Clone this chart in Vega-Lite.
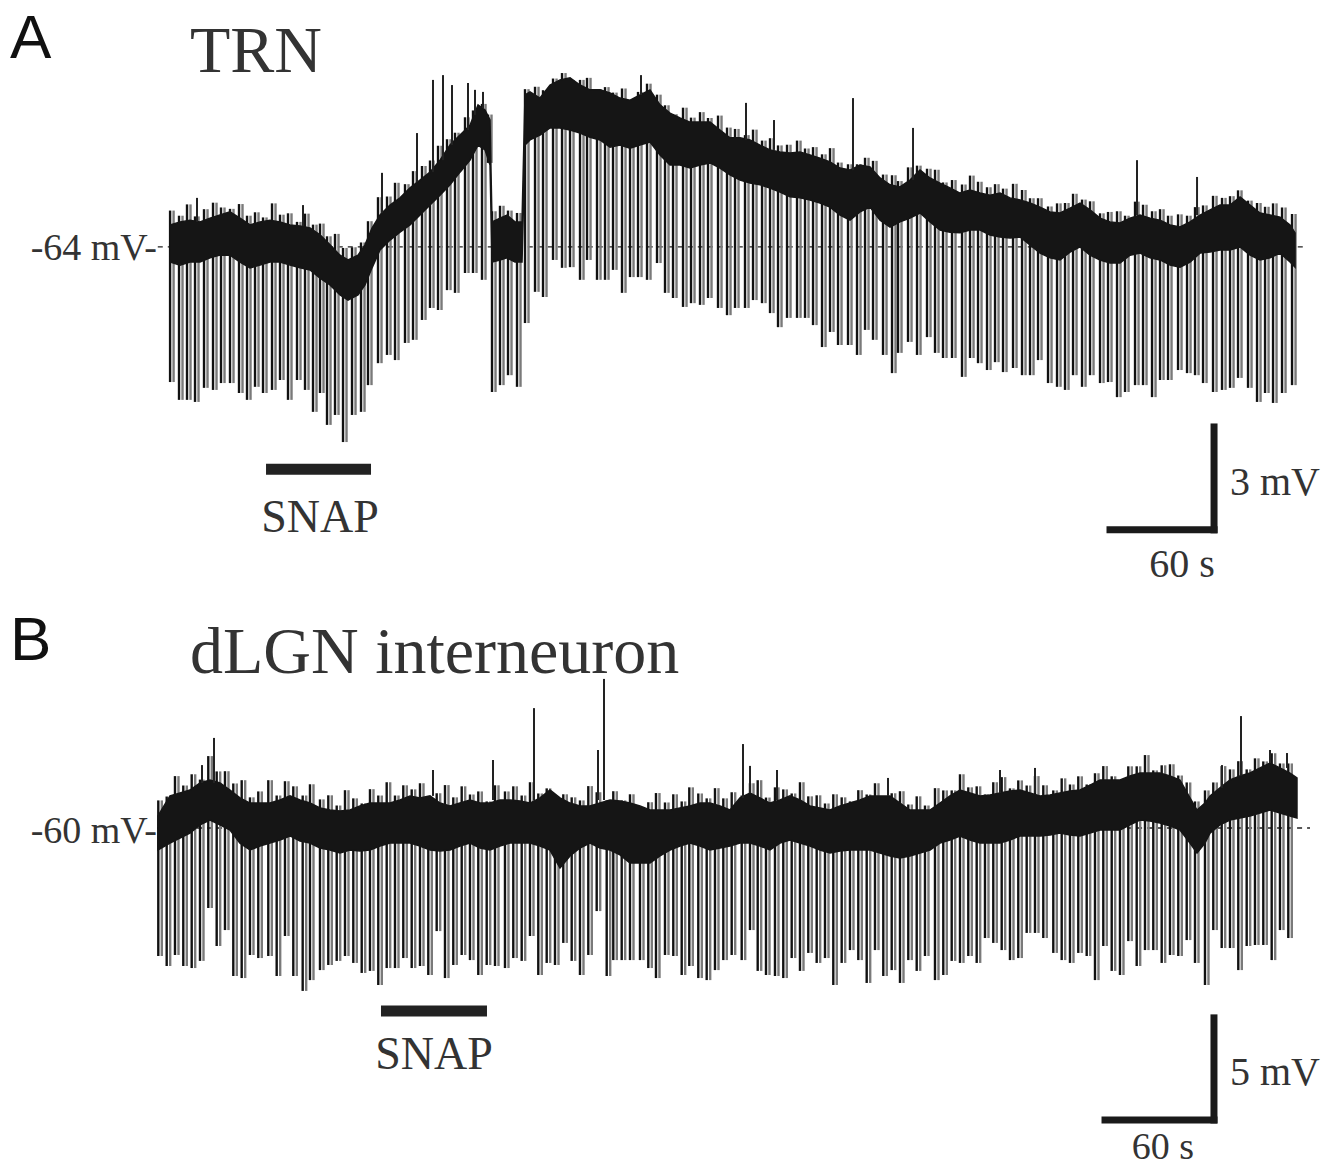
{
"$schema": "https://vega.github.io/schema/vega-lite/v6.json",
"padding": 0,
"spacing": 0,
"background": "white",
"config": {"view": {"stroke": null}},
"datasets": {
"bandA": [
{"t":0.1,"top":-63.36,"bot":-64.44},{"t":5.83,"top":-63.27,"bot":-64.53},{"t":11.59,"top":-63.22,"bot":-64.44},{"t":17.36,"top":-63.27,"bot":-64.44},{"t":23.13,"top":-63.16,"bot":-64.32},{"t":28.89,"top":-63.07,"bot":-64.24},{"t":34.66,"top":-62.98,"bot":-64.24},{"t":40.43,"top":-63.16,"bot":-64.44},{"t":46.2,"top":-63.36,"bot":-64.61},{"t":51.97,"top":-63.27,"bot":-64.53},{"t":57.73,"top":-63.22,"bot":-64.44},{"t":63.5,"top":-63.27,"bot":-64.44},{"t":69.27,"top":-63.36,"bot":-64.53},{"t":75.03,"top":-63.39,"bot":-64.61},{"t":80.8,"top":-63.45,"bot":-64.67},{"t":86.57,"top":-63.65,"bot":-64.91},{"t":92.34,"top":-63.94,"bot":-65.11},{"t":98.1,"top":-64.24,"bot":-65.4},{"t":102.72,"top":-64.38,"bot":-65.55},{"t":108.49,"top":-64.24,"bot":-65.4},{"t":112.52,"top":-63.94,"bot":-65.11},{"t":116.56,"top":-63.45,"bot":-64.61},{"t":121.17,"top":-63.07,"bot":-64.09},{"t":126.94,"top":-62.78,"bot":-63.8},{"t":132.71,"top":-62.57,"bot":-63.57},{"t":138.48,"top":-62.28,"bot":-63.36},{"t":144.25,"top":-62.05,"bot":-63.07},{"t":150.01,"top":-61.82,"bot":-62.78},{"t":155.78,"top":-61.47,"bot":-62.49},{"t":161.55,"top":-61.03,"bot":-62.19},{"t":167.31,"top":-60.74,"bot":-61.82},{"t":173.08,"top":-60.45,"bot":-61.47},{"t":177.7,"top":-59.86,"bot":-61.03},{"t":181.73,"top":-60.01,"bot":-61.17},{"t":184.62,"top":-60.3,"bot":-61.61},
{"t":185.77,"top":-63.27,"bot":-64.44},{"t":190.38,"top":-63.16,"bot":-64.38},{"t":194.42,"top":-63.07,"bot":-64.32},{"t":199.03,"top":-63.27,"bot":-64.44},{"t":203.07,"top":-63.27,"bot":-64.44},
{"t":204.8,"top":-59.57,"bot":-61.03},{"t":207.69,"top":-59.48,"bot":-60.88},{"t":213.45,"top":-59.66,"bot":-60.74},{"t":219.22,"top":-59.28,"bot":-60.53},{"t":224.99,"top":-59.13,"bot":-60.53},{"t":230.76,"top":-59.07,"bot":-60.59},{"t":236.53,"top":-59.28,"bot":-60.68},{"t":242.29,"top":-59.42,"bot":-60.8},{"t":248.06,"top":-59.42,"bot":-60.88},{"t":253.83,"top":-59.51,"bot":-61.09},{"t":259.6,"top":-59.66,"bot":-61.03},{"t":265.37,"top":-59.72,"bot":-61.12},{"t":271.13,"top":-59.57,"bot":-61.03},{"t":276.9,"top":-59.42,"bot":-60.94},{"t":282.67,"top":-59.86,"bot":-61.32},{"t":288.43,"top":-60.1,"bot":-61.61},{"t":294.2,"top":-60.24,"bot":-61.61},{"t":299.97,"top":-60.36,"bot":-61.7},{"t":305.74,"top":-60.36,"bot":-61.61},{"t":311.51,"top":-60.36,"bot":-61.55},{"t":317.27,"top":-60.59,"bot":-61.7},{"t":323.04,"top":-60.82,"bot":-61.9},{"t":328.81,"top":-60.82,"bot":-62.05},{"t":334.58,"top":-60.88,"bot":-62.14},{"t":340.34,"top":-61.03,"bot":-62.19},{"t":346.11,"top":-61.17,"bot":-62.28},{"t":351.88,"top":-61.23,"bot":-62.4},{"t":357.65,"top":-61.26,"bot":-62.54},{"t":363.42,"top":-61.23,"bot":-62.57},{"t":369.18,"top":-61.32,"bot":-62.63},{"t":374.95,"top":-61.41,"bot":-62.72},{"t":380.72,"top":-61.52,"bot":-62.84},{"t":386.49,"top":-61.7,"bot":-63.07},{"t":392.25,"top":-61.76,"bot":-63.22},{"t":398.02,"top":-61.61,"bot":-62.98},{"t":403.79,"top":-61.67,"bot":-62.84},{"t":409.56,"top":-61.99,"bot":-63.22},{"t":415.33,"top":-62.19,"bot":-63.42},{"t":421.09,"top":-62.25,"bot":-63.27},{"t":426.86,"top":-62.05,"bot":-63.16},{"t":432.63,"top":-61.76,"bot":-63.01},{"t":438.4,"top":-61.99,"bot":-63.27},{"t":444.16,"top":-62.14,"bot":-63.51},{"t":449.93,"top":-62.28,"bot":-63.57},{"t":455.7,"top":-62.43,"bot":-63.59},{"t":461.47,"top":-62.34,"bot":-63.51},{"t":467.24,"top":-62.43,"bot":-63.51},{"t":473.0,"top":-62.49,"bot":-63.65},{"t":478.77,"top":-62.43,"bot":-63.71},{"t":484.54,"top":-62.57,"bot":-63.74},{"t":490.31,"top":-62.63,"bot":-63.71},{"t":496.07,"top":-62.72,"bot":-63.94},{"t":501.84,"top":-62.84,"bot":-64.18},{"t":507.61,"top":-62.98,"bot":-64.32},{"t":513.38,"top":-63.01,"bot":-64.38},{"t":519.15,"top":-62.87,"bot":-64.15},{"t":524.91,"top":-62.72,"bot":-64.0},{"t":530.68,"top":-62.92,"bot":-64.24},{"t":536.45,"top":-63.16,"bot":-64.38},{"t":542.22,"top":-63.27,"bot":-64.47},{"t":547.98,"top":-63.3,"bot":-64.47},{"t":553.75,"top":-63.16,"bot":-64.24},{"t":559.52,"top":-63.07,"bot":-64.18},{"t":565.29,"top":-63.16,"bot":-64.32},{"t":571.06,"top":-63.22,"bot":-64.38},{"t":576.82,"top":-63.36,"bot":-64.53},{"t":582.59,"top":-63.42,"bot":-64.59},{"t":588.36,"top":-63.27,"bot":-64.44},{"t":594.13,"top":-63.07,"bot":-64.18},{"t":599.89,"top":-62.92,"bot":-64.15},{"t":605.66,"top":-62.78,"bot":-64.09},{"t":611.43,"top":-62.78,"bot":-64.09},{"t":617.2,"top":-62.54,"bot":-64.0},{"t":622.97,"top":-62.78,"bot":-64.24},{"t":628.73,"top":-63.01,"bot":-64.38},{"t":634.5,"top":-63.07,"bot":-64.32},{"t":640.27,"top":-63.13,"bot":-64.18},{"t":646.04,"top":-63.36,"bot":-64.44},{"t":648.92,"top":-63.59,"bot":-64.59}
],
"pulseA": [
{"t":0.1,"hi":-62.94,"lo":-67.94},{"t":5.25,"hi":-63.09,"lo":-68.46},{"t":9.86,"hi":-62.76,"lo":-68.46},{"t":14.48,"hi":-63.11,"lo":-68.52},{"t":19.67,"hi":-62.9,"lo":-68.11},{"t":24.86,"hi":-62.71,"lo":-68.17},{"t":29.47,"hi":-62.85,"lo":-67.97},{"t":34.66,"hi":-62.89,"lo":-67.97},{"t":39.85,"hi":-62.75,"lo":-68.26},{"t":44.47,"hi":-63.09,"lo":-68.46},{"t":49.08,"hi":-62.99,"lo":-68.08},{"t":53.7,"hi":-63.14,"lo":-68.26},{"t":58.89,"hi":-62.73,"lo":-68.17},{"t":63.5,"hi":-63.06,"lo":-67.88},{"t":68.11,"hi":-63.02,"lo":-68.46},{"t":73.3,"hi":-63.27,"lo":-67.88},{"t":77.92,"hi":-63.03,"lo":-68.17},{"t":82.53,"hi":-63.35,"lo":-68.81},{"t":86.57,"hi":-63.32,"lo":-68.26},{"t":90.61,"hi":-63.69,"lo":-69.19},{"t":95.22,"hi":-63.62,"lo":-68.9},{"t":99.84,"hi":-64.03,"lo":-69.69},{"t":105.03,"hi":-64.01,"lo":-68.9},{"t":110.22,"hi":-63.87,"lo":-68.81},{"t":114.25,"hi":-63.25,"lo":-68.03},{"t":120.02,"hi":-62.55,"lo":-67.39},{"t":125.21,"hi":-62.53,"lo":-67.15},{"t":129.83,"hi":-62.13,"lo":-67.3},{"t":135.59,"hi":-62.17,"lo":-66.8},{"t":140.21,"hi":-61.79,"lo":-66.71},{"t":145.4,"hi":-61.64,"lo":-66.13},{"t":150.01,"hi":-61.48,"lo":-65.78},{"t":154.63,"hi":-61.05,"lo":-65.84},{"t":159.82,"hi":-60.86,"lo":-65.26},{"t":164.43,"hi":-60.67,"lo":-65.34},{"t":170.2,"hi":-60.22,"lo":-64.76},{"t":174.81,"hi":-60.02,"lo":-64.76},{"t":180.0,"hi":-59.83,"lo":-64.96},{"t":183.46,"hi":-60.14,"lo":-61.55},
{"t":185.77,"hi":-62.96,"lo":-68.23},{"t":190.38,"hi":-62.8,"lo":-68.03},{"t":195.0,"hi":-62.94,"lo":-67.74},{"t":200.19,"hi":-63.01,"lo":-68.08},
{"t":204.8,"hi":-59.4,"lo":-66.22},{"t":210.58,"hi":-59.33,"lo":-65.31},{"t":215.19,"hi":-59.43,"lo":-65.46},{"t":220.96,"hi":-59.09,"lo":-64.38},{"t":226.15,"hi":-58.93,"lo":-64.61},{"t":230.76,"hi":-59.13,"lo":-64.59},{"t":236.53,"hi":-59.13,"lo":-64.96},{"t":240.57,"hi":-59.07,"lo":-64.38},{"t":246.33,"hi":-59.4,"lo":-64.96},{"t":250.95,"hi":-59.34,"lo":-64.96},{"t":255.56,"hi":-59.5,"lo":-64.67},{"t":260.75,"hi":-59.38,"lo":-65.34},{"t":265.37,"hi":-59.72,"lo":-64.88},{"t":269.98,"hi":-59.48,"lo":-64.88},{"t":275.17,"hi":-59.24,"lo":-64.96},{"t":280.94,"hi":-59.56,"lo":-64.47},{"t":285.55,"hi":-59.87,"lo":-65.34},{"t":290.17,"hi":-60.13,"lo":-65.49},{"t":295.94,"hi":-59.94,"lo":-65.75},{"t":300.55,"hi":-60.23,"lo":-65.64},{"t":305.74,"hi":-60.07,"lo":-65.69},{"t":310.35,"hi":-60.24,"lo":-65.49},{"t":316.12,"hi":-60.17,"lo":-65.78},{"t":321.31,"hi":-60.52,"lo":-65.99},{"t":325.93,"hi":-60.56,"lo":-65.78},{"t":331.69,"hi":-60.74,"lo":-65.78},{"t":336.31,"hi":-60.58,"lo":-65.55},{"t":341.5,"hi":-60.9,"lo":-65.64},{"t":346.12,"hi":-60.83,"lo":-65.93},{"t":350.73,"hi":-61.04,"lo":-66.34},{"t":355.92,"hi":-61.02,"lo":-66.07},{"t":361.69,"hi":-60.9,"lo":-66.07},{"t":366.3,"hi":-61.13,"lo":-66.07},{"t":370.92,"hi":-61.09,"lo":-66.28},{"t":376.11,"hi":-61.3,"lo":-66.92},{"t":380.72,"hi":-61.12,"lo":-66.48},{"t":385.34,"hi":-61.54,"lo":-66.86},{"t":391.1,"hi":-61.59,"lo":-66.86},{"t":396.29,"hi":-61.59,"lo":-67.15},{"t":400.91,"hi":-61.4,"lo":-66.42},{"t":405.52,"hi":-61.49,"lo":-66.71},{"t":411.29,"hi":-61.89,"lo":-67.15},{"t":416.48,"hi":-61.91,"lo":-67.68},{"t":419.94,"hi":-62.08,"lo":-67.09},{"t":425.71,"hi":-61.68,"lo":-66.77},{"t":430.9,"hi":-61.63,"lo":-67.15},{"t":436.66,"hi":-61.72,"lo":-66.63},{"t":441.28,"hi":-61.75,"lo":-67.09},{"t":445.89,"hi":-62.12,"lo":-67.24},{"t":451.08,"hi":-62.05,"lo":-67.24},{"t":456.85,"hi":-62.18,"lo":-67.79},{"t":461.47,"hi":-61.92,"lo":-67.24},{"t":466.08,"hi":-62.1,"lo":-67.39},{"t":471.27,"hi":-62.26,"lo":-67.59},{"t":475.89,"hi":-62.17,"lo":-67.36},{"t":480.5,"hi":-62.3,"lo":-67.65},{"t":486.27,"hi":-62.16,"lo":-67.53},{"t":491.46,"hi":-62.34,"lo":-67.74},{"t":496.07,"hi":-62.58,"lo":-67.74},{"t":500.69,"hi":-62.58,"lo":-67.3},{"t":506.46,"hi":-62.82,"lo":-67.97},{"t":511.65,"hi":-62.73,"lo":-68.08},{"t":516.26,"hi":-62.72,"lo":-68.17},{"t":520.88,"hi":-62.45,"lo":-67.74},{"t":526.07,"hi":-62.62,"lo":-68.08},{"t":530.68,"hi":-62.67,"lo":-67.74},{"t":536.45,"hi":-63.02,"lo":-67.97},{"t":541.06,"hi":-62.98,"lo":-67.94},{"t":546.25,"hi":-62.96,"lo":-68.38},{"t":550.87,"hi":-63.09,"lo":-68.23},{"t":556.64,"hi":-62.68,"lo":-68.03},{"t":561.25,"hi":-62.77,"lo":-68.03},{"t":566.44,"hi":-62.96,"lo":-68.38},{"t":571.06,"hi":-62.9,"lo":-67.88},{"t":575.67,"hi":-63.09,"lo":-67.88},{"t":581.44,"hi":-63.05,"lo":-67.59},{"t":586.63,"hi":-63.09,"lo":-67.68},{"t":591.24,"hi":-62.84,"lo":-67.74},{"t":595.86,"hi":-62.79,"lo":-67.97},{"t":601.62,"hi":-62.51,"lo":-68.23},{"t":606.81,"hi":-62.57,"lo":-68.17},{"t":611.43,"hi":-62.52,"lo":-68.11},{"t":616.04,"hi":-62.35,"lo":-67.82},{"t":621.81,"hi":-62.65,"lo":-68.11},{"t":627.0,"hi":-62.72,"lo":-68.52},{"t":631.62,"hi":-62.83,"lo":-68.26},{"t":636.23,"hi":-62.73,"lo":-68.55},{"t":641.42,"hi":-62.85,"lo":-68.26},{"t":647.19,"hi":-63.04,"lo":-68.03}
],
"spikeA": [
{"t":151.74,"base":-61.82,"peak":-59.13},{"t":157.51,"base":-61.47,"peak":-58.99},{"t":162.7,"base":-61.03,"peak":-59.28},{"t":171.93,"base":-60.59,"peak":-59.22},{"t":175.97,"base":-60.15,"peak":-59.42},{"t":180.58,"base":-59.95,"peak":-59.48},{"t":271.71,"base":-59.57,"peak":-58.99},{"t":332.27,"base":-60.88,"peak":-59.8},{"t":348.42,"base":-61.17,"peak":-60.3},{"t":393.98,"base":-61.76,"peak":-59.66},{"t":428.59,"base":-62.05,"peak":-60.53},{"t":557.78,"base":-63.07,"peak":-61.47},{"t":592.39,"base":-63.07,"peak":-61.96},{"t":15.63,"base":-63.27,"peak":-62.57},{"t":76.77,"base":-63.39,"peak":-62.78},{"t":122.33,"base":-63.01,"peak":-61.84},{"t":142.51,"base":-62.11,"peak":-60.68}
],
"bandB": [
{"t":0,"top":-59.41,"bot":-61.08},{"t":6.61,"top":-58.43,"bot":-60.74},{"t":12.11,"top":-58.29,"bot":-60.49},{"t":17.62,"top":-58.14,"bot":-60.25},{"t":23.13,"top":-57.8,"bot":-59.85},{"t":28.63,"top":-57.65,"bot":-59.61},{"t":34.14,"top":-57.8,"bot":-59.85},{"t":39.65,"top":-58.14,"bot":-60.1},{"t":45.15,"top":-58.53,"bot":-60.74},{"t":50.66,"top":-58.78,"bot":-61.08},{"t":56.17,"top":-58.78,"bot":-60.88},{"t":61.68,"top":-58.78,"bot":-60.74},{"t":67.18,"top":-58.63,"bot":-60.59},{"t":72.69,"top":-58.43,"bot":-60.39},{"t":78.2,"top":-58.63,"bot":-60.64},{"t":83.7,"top":-58.78,"bot":-60.74},{"t":89.21,"top":-59.02,"bot":-60.98},{"t":94.72,"top":-59.12,"bot":-61.08},{"t":100.22,"top":-59.17,"bot":-61.23},{"t":105.73,"top":-59.12,"bot":-61.08},{"t":111.24,"top":-58.92,"bot":-61.13},{"t":116.74,"top":-58.78,"bot":-61.08},{"t":122.25,"top":-58.78,"bot":-60.88},{"t":127.76,"top":-58.78,"bot":-60.74},{"t":133.26,"top":-58.63,"bot":-60.74},{"t":138.77,"top":-58.43,"bot":-60.74},{"t":144.28,"top":-58.53,"bot":-60.88},{"t":149.78,"top":-58.43,"bot":-61.08},{"t":155.29,"top":-58.78,"bot":-61.13},{"t":160.8,"top":-58.92,"bot":-61.08},{"t":166.3,"top":-58.78,"bot":-60.88},{"t":171.81,"top":-58.63,"bot":-60.74},{"t":177.32,"top":-58.78,"bot":-60.98},{"t":182.82,"top":-58.78,"bot":-61.08},{"t":188.33,"top":-58.63,"bot":-60.88},{"t":193.84,"top":-58.63,"bot":-60.74},{"t":199.34,"top":-58.68,"bot":-60.74},{"t":204.85,"top":-58.78,"bot":-60.74},{"t":210.36,"top":-58.53,"bot":-60.88},{"t":215.86,"top":-58.14,"bot":-61.08},{"t":221.37,"top":-58.53,"bot":-61.96},{"t":226.88,"top":-58.78,"bot":-61.37},{"t":232.38,"top":-58.92,"bot":-60.98},{"t":237.89,"top":-58.92,"bot":-60.74},{"t":243.4,"top":-58.78,"bot":-60.98},{"t":248.9,"top":-58.63,"bot":-61.08},{"t":254.41,"top":-58.68,"bot":-61.32},{"t":259.92,"top":-58.78,"bot":-61.72},{"t":265.43,"top":-58.92,"bot":-61.72},{"t":270.93,"top":-59.12,"bot":-61.72},{"t":276.44,"top":-59.12,"bot":-61.37},{"t":281.95,"top":-59.12,"bot":-61.08},{"t":287.45,"top":-59.02,"bot":-60.88},{"t":292.96,"top":-58.92,"bot":-60.74},{"t":298.47,"top":-58.78,"bot":-60.88},{"t":303.97,"top":-58.78,"bot":-61.08},{"t":309.48,"top":-58.92,"bot":-60.98},{"t":314.99,"top":-59.12,"bot":-60.88},{"t":320.49,"top":-58.53,"bot":-60.74},{"t":326.0,"top":-58.29,"bot":-60.74},{"t":331.51,"top":-58.53,"bot":-60.88},{"t":337.01,"top":-58.78,"bot":-61.08},{"t":342.52,"top":-58.63,"bot":-60.74},{"t":348.02,"top":-58.43,"bot":-60.59},{"t":353.53,"top":-58.63,"bot":-60.74},{"t":359.04,"top":-58.92,"bot":-60.88},{"t":364.54,"top":-59.02,"bot":-61.08},{"t":370.05,"top":-59.12,"bot":-61.23},{"t":375.56,"top":-58.92,"bot":-61.13},{"t":381.06,"top":-58.78,"bot":-61.08},{"t":386.57,"top":-58.63,"bot":-61.08},{"t":392.08,"top":-58.43,"bot":-61.08},{"t":397.58,"top":-58.43,"bot":-61.23},{"t":403.09,"top":-58.43,"bot":-61.37},{"t":408.6,"top":-58.78,"bot":-61.47},{"t":414.1,"top":-59.12,"bot":-61.37},{"t":419.61,"top":-59.12,"bot":-61.23},{"t":425.12,"top":-59.12,"bot":-61.08},{"t":430.62,"top":-58.78,"bot":-60.74},{"t":436.13,"top":-58.43,"bot":-60.59},{"t":441.64,"top":-58.14,"bot":-60.39},{"t":447.14,"top":-58.29,"bot":-60.59},{"t":452.65,"top":-58.43,"bot":-60.74},{"t":458.16,"top":-58.39,"bot":-60.74},{"t":463.66,"top":-58.29,"bot":-60.74},{"t":469.17,"top":-58.19,"bot":-60.59},{"t":474.68,"top":-58.14,"bot":-60.39},{"t":480.18,"top":-58.29,"bot":-60.39},{"t":485.69,"top":-58.43,"bot":-60.39},{"t":491.2,"top":-58.39,"bot":-60.34},{"t":496.7,"top":-58.29,"bot":-60.25},{"t":502.21,"top":-58.19,"bot":-60.34},{"t":507.72,"top":-58.14,"bot":-60.39},{"t":513.22,"top":-57.9,"bot":-60.25},{"t":518.73,"top":-57.65,"bot":-60.1},{"t":524.24,"top":-57.65,"bot":-60.1},{"t":529.74,"top":-57.65,"bot":-60.1},{"t":535.25,"top":-57.45,"bot":-59.85},{"t":540.76,"top":-57.31,"bot":-59.61},{"t":546.26,"top":-57.31,"bot":-59.66},{"t":551.77,"top":-57.31,"bot":-59.76},{"t":557.28,"top":-57.45,"bot":-59.9},{"t":562.78,"top":-57.65,"bot":-60.1},{"t":568.29,"top":-58.53,"bot":-60.74},{"t":572.15,"top":-59.12,"bot":-61.23},{"t":576.55,"top":-58.78,"bot":-60.74},{"t":579.31,"top":-58.43,"bot":-60.25},{"t":584.81,"top":-58.04,"bot":-59.85},{"t":590.32,"top":-57.65,"bot":-59.61},{"t":595.83,"top":-57.45,"bot":-59.51},{"t":601.33,"top":-57.31,"bot":-59.41},{"t":606.84,"top":-57.06,"bot":-59.27},{"t":612.35,"top":-56.82,"bot":-59.12},{"t":617.85,"top":-57.06,"bot":-59.27},{"t":623.36,"top":-57.31,"bot":-59.41},{"t":627.21,"top":-57.55,"bot":-59.51}
],
"pulseB": [
{"t":0.17,"hi":-58.65,"lo":-66.27},{"t":4.79,"hi":-58.46,"lo":-66.76},{"t":9.36,"hi":-57.46,"lo":-66.22},{"t":13.93,"hi":-57.92,"lo":-66.76},{"t":18.56,"hi":-57.37,"lo":-66.86},{"t":23.13,"hi":-57.63,"lo":-66.51},{"t":27.7,"hi":-56.48,"lo":-63.92},{"t":32.32,"hi":-57.23,"lo":-65.78},{"t":36.89,"hi":-57.22,"lo":-65.0},{"t":41.47,"hi":-57.82,"lo":-67.25},{"t":46.09,"hi":-57.66,"lo":-67.35},{"t":50.66,"hi":-58.5,"lo":-66.22},{"t":55.23,"hi":-58.21,"lo":-66.37},{"t":60.74,"hi":-57.66,"lo":-66.27},{"t":65.36,"hi":-58.41,"lo":-67.25},{"t":69.93,"hi":-57.71,"lo":-65.29},{"t":74.51,"hi":-57.96,"lo":-67.25},{"t":79.68,"hi":-58.41,"lo":-67.98},{"t":83.7,"hi":-57.86,"lo":-67.45},{"t":89.21,"hi":-58.6,"lo":-66.96},{"t":93.78,"hi":-58.4,"lo":-66.71},{"t":98.41,"hi":-58.9,"lo":-66.51},{"t":102.98,"hi":-58.15,"lo":-66.27},{"t":107.55,"hi":-58.55,"lo":-66.61},{"t":112.18,"hi":-58.8,"lo":-67.1},{"t":116.74,"hi":-58.1,"lo":-67.0},{"t":121.31,"hi":-58.41,"lo":-67.69},{"t":125.94,"hi":-57.76,"lo":-66.86},{"t":130.51,"hi":-58.41,"lo":-66.86},{"t":135.08,"hi":-57.91,"lo":-66.37},{"t":139.71,"hi":-58.11,"lo":-66.86},{"t":144.28,"hi":-57.81,"lo":-66.76},{"t":148.85,"hi":-58.56,"lo":-67.2},{"t":153.47,"hi":-58.3,"lo":-65.05},{"t":158.04,"hi":-57.9,"lo":-67.35},{"t":162.61,"hi":-58.5,"lo":-66.71},{"t":167.24,"hi":-57.96,"lo":-66.22},{"t":171.81,"hi":-58.36,"lo":-66.47},{"t":176.38,"hi":-58.21,"lo":-67.2},{"t":181.01,"hi":-58.7,"lo":-66.71},{"t":185.58,"hi":-57.91,"lo":-66.76},{"t":191.08,"hi":-58.21,"lo":-66.86},{"t":195.65,"hi":-57.96,"lo":-66.37},{"t":200.28,"hi":-58.41,"lo":-66.51},{"t":204.85,"hi":-57.76,"lo":-65.29},{"t":209.42,"hi":-58.31,"lo":-67.2},{"t":214.05,"hi":-58.06,"lo":-66.61},{"t":218.62,"hi":-58.56,"lo":-66.71},{"t":223.19,"hi":-58.35,"lo":-65.63},{"t":227.81,"hi":-58.5,"lo":-66.51},{"t":232.38,"hi":-58.65,"lo":-67.2},{"t":236.96,"hi":-57.95,"lo":-66.22},{"t":241.58,"hi":-58.25,"lo":-64.07},{"t":247.09,"hi":-58.65,"lo":-67.25},{"t":250.72,"hi":-58.2,"lo":-66.47},{"t":255.35,"hi":-58.65,"lo":-66.47},{"t":259.92,"hi":-58.35,"lo":-66.47},{"t":265.43,"hi":-58.99,"lo":-66.47},{"t":270.0,"hi":-58.74,"lo":-66.86},{"t":274.23,"hi":-58.29,"lo":-67.35},{"t":279.19,"hi":-58.75,"lo":-66.22},{"t":283.76,"hi":-58.35,"lo":-66.27},{"t":288.39,"hi":-58.7,"lo":-67.2},{"t":292.57,"hi":-58.01,"lo":-66.76},{"t":297.53,"hi":-58.31,"lo":-67.35},{"t":302.15,"hi":-58.55,"lo":-67.45},{"t":306.72,"hi":-58.05,"lo":-66.96},{"t":311.3,"hi":-58.55,"lo":-66.47},{"t":315.92,"hi":-58.25,"lo":-66.22},{"t":321.43,"hi":-58.41,"lo":-66.47},{"t":326.0,"hi":-57.81,"lo":-65.0},{"t":330.24,"hi":-57.66,"lo":-67.0},{"t":334.81,"hi":-58.51,"lo":-67.2},{"t":339.76,"hi":-58.01,"lo":-67.25},{"t":344.33,"hi":-58.11,"lo":-67.35},{"t":348.96,"hi":-58.31,"lo":-66.37},{"t":353.53,"hi":-57.76,"lo":-67.0},{"t":358.1,"hi":-58.45,"lo":-66.12},{"t":362.72,"hi":-58.4,"lo":-66.61},{"t":367.3,"hi":-58.8,"lo":-66.37},{"t":371.87,"hi":-58.35,"lo":-67.69},{"t":376.49,"hi":-58.5,"lo":-66.61},{"t":381.06,"hi":-58.7,"lo":-65.98},{"t":385.64,"hi":-58.15,"lo":-66.47},{"t":390.26,"hi":-58.36,"lo":-67.59},{"t":394.83,"hi":-57.81,"lo":-65.98},{"t":399.4,"hi":-58.55,"lo":-67.25},{"t":404.03,"hi":-58.3,"lo":-66.96},{"t":408.6,"hi":-58.2,"lo":-67.59},{"t":413.17,"hi":-58.85,"lo":-66.47},{"t":417.8,"hi":-58.45,"lo":-67.0},{"t":422.36,"hi":-58.9,"lo":-66.27},{"t":427.87,"hi":-58.05,"lo":-67.45},{"t":432.44,"hi":-58.16,"lo":-67.2},{"t":437.07,"hi":-58.16,"lo":-66.51},{"t":441.64,"hi":-57.37,"lo":-66.61},{"t":446.21,"hi":-58.01,"lo":-66.27},{"t":450.83,"hi":-57.96,"lo":-66.61},{"t":455.4,"hi":-58.36,"lo":-65.39},{"t":459.97,"hi":-57.76,"lo":-65.63},{"t":464.6,"hi":-57.51,"lo":-65.98},{"t":469.17,"hi":-58.06,"lo":-66.47},{"t":473.74,"hi":-57.67,"lo":-66.37},{"t":478.36,"hi":-57.92,"lo":-65.14},{"t":482.94,"hi":-57.46,"lo":-65.14},{"t":487.51,"hi":-57.91,"lo":-65.39},{"t":493.02,"hi":-58.16,"lo":-66.12},{"t":497.64,"hi":-57.57,"lo":-66.47},{"t":502.21,"hi":-57.87,"lo":-66.61},{"t":506.78,"hi":-57.47,"lo":-66.12},{"t":511.41,"hi":-57.87,"lo":-66.27},{"t":515.98,"hi":-57.32,"lo":-67.45},{"t":520.55,"hi":-56.97,"lo":-65.78},{"t":525.18,"hi":-57.47,"lo":-67.0},{"t":529.74,"hi":-57.67,"lo":-67.2},{"t":534.32,"hi":-56.98,"lo":-65.54},{"t":538.94,"hi":-56.98,"lo":-66.76},{"t":543.51,"hi":-56.43,"lo":-65.98},{"t":548.08,"hi":-57.18,"lo":-65.98},{"t":552.71,"hi":-56.93,"lo":-66.61},{"t":557.28,"hi":-56.88,"lo":-66.22},{"t":561.85,"hi":-57.43,"lo":-66.27},{"t":566.48,"hi":-57.77,"lo":-65.49},{"t":571.05,"hi":-58.7,"lo":-66.61},{"t":576.55,"hi":-58.16,"lo":-67.69},{"t":581.12,"hi":-57.77,"lo":-65.0},{"t":585.75,"hi":-56.97,"lo":-65.88},{"t":590.32,"hi":-57.13,"lo":-65.88},{"t":594.89,"hi":-56.73,"lo":-66.96},{"t":599.51,"hi":-57.13,"lo":-65.78},{"t":604.08,"hi":-56.59,"lo":-65.73},{"t":608.66,"hi":-56.74,"lo":-65.73},{"t":613.28,"hi":-56.34,"lo":-66.47},{"t":617.85,"hi":-56.84,"lo":-65.0},{"t":622.43,"hi":-56.84,"lo":-65.39}
],
"spikeB": [
{"t":30.84,"base":-57.8,"peak":-55.59},{"t":207.05,"base":-58.63,"peak":-54.13},{"t":245.6,"base":-58.63,"peak":-52.7},{"t":322.14,"base":-58.53,"peak":-55.89},{"t":596.38,"base":-57.45,"peak":-54.52},{"t":184.47,"base":-58.63,"peak":-56.67},{"t":151.43,"base":-58.43,"peak":-57.16},{"t":24.23,"base":-57.8,"peak":-56.92},{"t":242.29,"base":-58.63,"peak":-56.18},{"t":340.86,"base":-58.63,"peak":-57.16},{"t":401.99,"base":-58.43,"peak":-57.55},{"t":326.0,"base":-58.29,"peak":-56.96},{"t":585.91,"base":-58.04,"peak":-56.92},{"t":612.35,"base":-56.82,"peak":-56.18},{"t":621.71,"base":-57.06,"peak":-56.33},{"t":463.66,"base":-58.29,"peak":-57.16},{"t":482.94,"base":-58.29,"peak":-57.06}
]
},
"vconcat": [
{
"width": 1342, "height": 583,
"layer": [
{"data": {"values": [{"t": -7, "t2": 656, "v": -64}]},
 "mark": {"type": "rule", "strokeDash": [5, 5], "color": "#222", "strokeWidth": 1.4},
 "encoding": {"x": {"field": "t", "type": "quantitative", "scale": {"domain": [-98, 676]}, "axis": null}, "x2": {"field": "t2"}, "y": {"field": "v", "type": "quantitative", "scale": {"domain": [-73.8, -56.8]}, "axis": null}}},
{"data": {"name": "pulseA"},
 "mark": {"type": "rule", "color": "#7a7a7a", "strokeWidth": 2.4, "xOffset": 3.5},
 "encoding": {"x": {"field": "t", "type": "quantitative", "scale": {"domain": [-98, 676]}, "axis": null}, "y": {"field": "hi", "type": "quantitative", "scale": {"domain": [-73.8, -56.8]}, "axis": null}, "y2": {"field": "lo"}}},
{"data": {"name": "pulseA"},
 "mark": {"type": "rule", "color": "#111", "strokeWidth": 2.4},
 "encoding": {"x": {"field": "t", "type": "quantitative", "scale": {"domain": [-98, 676]}, "axis": null}, "y": {"field": "hi", "type": "quantitative", "scale": {"domain": [-73.8, -56.8]}, "axis": null}, "y2": {"field": "lo"}}},
{"data": {"name": "bandA"},
 "mark": {"type": "area", "color": "#151515", "stroke": "#151515", "strokeWidth": 1.5},
 "encoding": {"x": {"field": "t", "type": "quantitative", "scale": {"domain": [-98, 676]}, "axis": null}, "y": {"field": "top", "type": "quantitative", "scale": {"domain": [-73.8, -56.8]}, "axis": null}, "y2": {"field": "bot"}}},
{"data": {"name": "spikeA"},
 "mark": {"type": "rule", "color": "#222", "strokeWidth": 2},
 "encoding": {"x": {"field": "t", "type": "quantitative", "scale": {"domain": [-98, 676]}, "axis": null}, "y": {"field": "base", "type": "quantitative", "scale": {"domain": [-73.8, -56.8]}, "axis": null}, "y2": {"field": "peak"}}},
{"data": {"values": [{"t": 55.43, "t2": 115.98, "v": -70.48}]},
 "mark": {"type": "rule", "color": "#222", "strokeWidth": 11},
 "encoding": {"x": {"field": "t", "type": "quantitative", "scale": {"domain": [-98, 676]}, "axis": null}, "x2": {"field": "t2"}, "y": {"field": "v", "type": "quantitative", "scale": {"domain": [-73.8, -56.8]}, "axis": null}}},
{"data": {"values": [{"t": 542.2, "t2": 602.2, "v": -72.25, "v2": -72.25}, {"t": 602.2, "t2": 602.2, "v": -69.25, "v2": -72.25}]},
 "mark": {"type": "rule", "color": "#1a1a1a", "strokeWidth": 7, "strokeCap": "square"},
 "encoding": {"x": {"field": "t", "type": "quantitative", "scale": {"domain": [-98, 676]}, "axis": null}, "x2": {"field": "t2"}, "y": {"field": "v", "type": "quantitative", "scale": {"domain": [-73.8, -56.8]}, "axis": null}, "y2": {"field": "v2"}}},
{"data": {"values": [{"t": -92.2, "v": -58.49, "label": "A"}]},
 "mark": {"type": "text", "font": "Liberation Sans", "fontSize": 62, "align": "left", "baseline": "alphabetic", "color": "#111"},
 "encoding": {"x": {"field": "t", "type": "quantitative", "scale": {"domain": [-98, 676]}, "axis": null}, "y": {"field": "v", "type": "quantitative", "scale": {"domain": [-73.8, -56.8]}, "axis": null}, "text": {"field": "label"}}},
{"data": {"values": [{"t": 11.59, "v": -58.9, "label": "TRN"}]},
 "mark": {"type": "text", "font": "Liberation Serif", "fontSize": 66, "align": "left", "baseline": "alphabetic", "color": "#333"},
 "encoding": {"x": {"field": "t", "type": "quantitative", "scale": {"domain": [-98, 676]}, "axis": null}, "y": {"field": "v", "type": "quantitative", "scale": {"domain": [-73.8, -56.8]}, "axis": null}, "text": {"field": "label"}}},
{"data": {"values": [{"t": 86.57, "v": -72.31, "label": "SNAP"}]},
 "mark": {"type": "text", "font": "Liberation Serif", "fontSize": 46, "align": "center", "baseline": "alphabetic", "color": "#333"},
 "encoding": {"x": {"field": "t", "type": "quantitative", "scale": {"domain": [-98, 676]}, "axis": null}, "y": {"field": "v", "type": "quantitative", "scale": {"domain": [-73.8, -56.8]}, "axis": null}, "text": {"field": "label"}}},
{"data": {"values": [{"t": -7.46, "v": -64.38, "label": "-64 mV-"}]},
 "mark": {"type": "text", "font": "Liberation Serif", "fontSize": 38, "align": "right", "baseline": "alphabetic", "color": "#333"},
 "encoding": {"x": {"field": "t", "type": "quantitative", "scale": {"domain": [-98, 676]}, "axis": null}, "y": {"field": "v", "type": "quantitative", "scale": {"domain": [-73.8, -56.8]}, "axis": null}, "text": {"field": "label"}}},
{"data": {"values": [{"t": 611.4, "v": -71.23, "label": "3 mV"}]},
 "mark": {"type": "text", "font": "Liberation Serif", "fontSize": 40, "align": "left", "baseline": "alphabetic", "color": "#333"},
 "encoding": {"x": {"field": "t", "type": "quantitative", "scale": {"domain": [-98, 676]}, "axis": null}, "y": {"field": "v", "type": "quantitative", "scale": {"domain": [-73.8, -56.8]}, "axis": null}, "text": {"field": "label"}}},
{"data": {"values": [{"t": 583.7, "v": -73.63, "label": "60 s"}]},
 "mark": {"type": "text", "font": "Liberation Serif", "fontSize": 40, "align": "center", "baseline": "alphabetic", "color": "#333"},
 "encoding": {"x": {"field": "t", "type": "quantitative", "scale": {"domain": [-98, 676]}, "axis": null}, "y": {"field": "v", "type": "quantitative", "scale": {"domain": [-73.8, -56.8]}, "axis": null}, "text": {"field": "label"}}}
]
},
{
"width": 1342, "height": 584,
"layer": [
{"data": {"values": [{"t": -0.5, "t2": 634.4, "v": -60}]},
 "mark": {"type": "rule", "strokeDash": [5, 5], "color": "#222", "strokeWidth": 1.4},
 "encoding": {"x": {"field": "t", "type": "quantitative", "scale": {"domain": [-87, 652]}, "axis": null}, "x2": {"field": "t2"}, "y": {"field": "v", "type": "quantitative", "scale": {"domain": [-76.75, -48.15]}, "axis": null}}},
{"data": {"name": "pulseB"},
 "mark": {"type": "rule", "color": "#7a7a7a", "strokeWidth": 2.4, "xOffset": 3.5},
 "encoding": {"x": {"field": "t", "type": "quantitative", "scale": {"domain": [-87, 652]}, "axis": null}, "y": {"field": "hi", "type": "quantitative", "scale": {"domain": [-76.75, -48.15]}, "axis": null}, "y2": {"field": "lo"}}},
{"data": {"name": "pulseB"},
 "mark": {"type": "rule", "color": "#111", "strokeWidth": 2.4},
 "encoding": {"x": {"field": "t", "type": "quantitative", "scale": {"domain": [-87, 652]}, "axis": null}, "y": {"field": "hi", "type": "quantitative", "scale": {"domain": [-76.75, -48.15]}, "axis": null}, "y2": {"field": "lo"}}},
{"data": {"name": "bandB"},
 "mark": {"type": "area", "color": "#151515", "stroke": "#151515", "strokeWidth": 1.5},
 "encoding": {"x": {"field": "t", "type": "quantitative", "scale": {"domain": [-87, 652]}, "axis": null}, "y": {"field": "top", "type": "quantitative", "scale": {"domain": [-76.75, -48.15]}, "axis": null}, "y2": {"field": "bot"}}},
{"data": {"name": "spikeB"},
 "mark": {"type": "rule", "color": "#222", "strokeWidth": 2},
 "encoding": {"x": {"field": "t", "type": "quantitative", "scale": {"domain": [-87, 652]}, "axis": null}, "y": {"field": "base", "type": "quantitative", "scale": {"domain": [-76.75, -48.15]}, "axis": null}, "y2": {"field": "peak"}}},
{"data": {"values": [{"t": 122.8, "t2": 181.17, "v": -68.96}]},
 "mark": {"type": "rule", "color": "#222", "strokeWidth": 11},
 "encoding": {"x": {"field": "t", "type": "quantitative", "scale": {"domain": [-87, 652]}, "axis": null}, "x2": {"field": "t2"}, "y": {"field": "v", "type": "quantitative", "scale": {"domain": [-76.75, -48.15]}, "axis": null}}},
{"data": {"values": [{"t": 521.5, "t2": 581.5, "v": -74.3, "v2": -74.3}, {"t": 581.5, "t2": 581.5, "v": -69.3, "v2": -74.3}]},
 "mark": {"type": "rule", "color": "#1a1a1a", "strokeWidth": 7, "strokeCap": "square"},
 "encoding": {"x": {"field": "t", "type": "quantitative", "scale": {"domain": [-87, 652]}, "axis": null}, "x2": {"field": "t2"}, "y": {"field": "v", "type": "quantitative", "scale": {"domain": [-76.75, -48.15]}, "axis": null}, "y2": {"field": "v2"}}},
{"data": {"values": [{"t": -81.5, "v": -51.77, "label": "B"}]},
 "mark": {"type": "text", "font": "Liberation Sans", "fontSize": 62, "align": "left", "baseline": "alphabetic", "color": "#111"},
 "encoding": {"x": {"field": "t", "type": "quantitative", "scale": {"domain": [-87, 652]}, "axis": null}, "y": {"field": "v", "type": "quantitative", "scale": {"domain": [-76.75, -48.15]}, "axis": null}, "text": {"field": "label"}}},
{"data": {"values": [{"t": 17.62, "v": -52.41, "label": "dLGN interneuron"}]},
 "mark": {"type": "text", "font": "Liberation Serif", "fontSize": 66, "align": "left", "baseline": "alphabetic", "color": "#333"},
 "encoding": {"x": {"field": "t", "type": "quantitative", "scale": {"domain": [-87, 652]}, "axis": null}, "y": {"field": "v", "type": "quantitative", "scale": {"domain": [-76.75, -48.15]}, "axis": null}, "text": {"field": "label"}}},
{"data": {"values": [{"t": 151.98, "v": -71.8, "label": "SNAP"}]},
 "mark": {"type": "text", "font": "Liberation Serif", "fontSize": 46, "align": "center", "baseline": "alphabetic", "color": "#333"},
 "encoding": {"x": {"field": "t", "type": "quantitative", "scale": {"domain": [-87, 652]}, "axis": null}, "y": {"field": "v", "type": "quantitative", "scale": {"domain": [-76.75, -48.15]}, "axis": null}, "text": {"field": "label"}}},
{"data": {"values": [{"t": -0.55, "v": -60.74, "label": "-60 mV-"}]},
 "mark": {"type": "text", "font": "Liberation Serif", "fontSize": 38, "align": "right", "baseline": "alphabetic", "color": "#333"},
 "encoding": {"x": {"field": "t", "type": "quantitative", "scale": {"domain": [-87, 652]}, "axis": null}, "y": {"field": "v", "type": "quantitative", "scale": {"domain": [-76.75, -48.15]}, "axis": null}, "text": {"field": "label"}}},
{"data": {"values": [{"t": 590.3, "v": -72.59, "label": "5 mV"}]},
 "mark": {"type": "text", "font": "Liberation Serif", "fontSize": 40, "align": "left", "baseline": "alphabetic", "color": "#333"},
 "encoding": {"x": {"field": "t", "type": "quantitative", "scale": {"domain": [-87, 652]}, "axis": null}, "y": {"field": "v", "type": "quantitative", "scale": {"domain": [-76.75, -48.15]}, "axis": null}, "text": {"field": "label"}}},
{"data": {"values": [{"t": 553.4, "v": -76.21, "label": "60 s"}]},
 "mark": {"type": "text", "font": "Liberation Serif", "fontSize": 38, "align": "center", "baseline": "alphabetic", "color": "#333"},
 "encoding": {"x": {"field": "t", "type": "quantitative", "scale": {"domain": [-87, 652]}, "axis": null}, "y": {"field": "v", "type": "quantitative", "scale": {"domain": [-76.75, -48.15]}, "axis": null}, "text": {"field": "label"}}}
]
}
]
}
